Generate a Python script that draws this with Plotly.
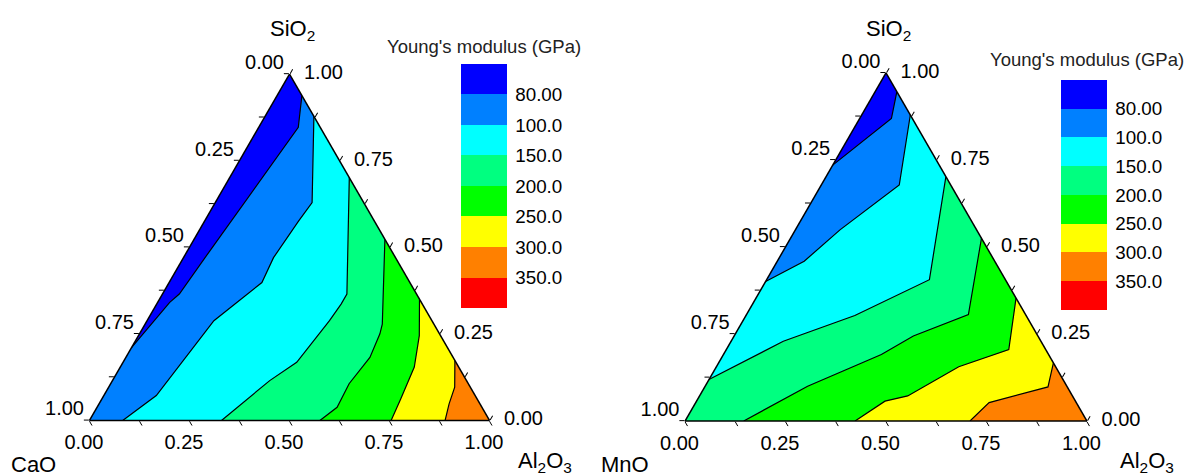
import plotly.graph_objects as go

# ---------------- data ----------------
# ternary components (fractions): a = SiO2, b = CaO or MnO, c = Al2O3
level_labels = ["80.00", "100.0", "150.0", "200.0", "250.0", "300.0", "350.0"]
band_colors = ["#0000FF", "#0080FF", "#00FFFF", "#00FF80", "#00FF00",
               "#FFFF00", "#FF8000", "#FF0000"]
tick_all = [0, 0.125, 0.25, 0.375, 0.5, 0.625, 0.75, 0.875, 1.0]
tick_major = [0, 0.25, 0.5, 0.75, 1.0]

# Left plot: CaO - SiO2 - Al2O3, contour boundaries (SiO2, Al2O3)
cao_80_sio2 = [0.938, 0.846, 0.489, 0.365, 0.341, 0.21]
cao_80_al2o3 = [0.062, 0.099, 0.056, 0.042, 0.030, 0.0]
cao_100_sio2 = [0.878, 0.629, 0.576, 0.470, 0.398, 0.288, 0.072, 0.0]
cao_100_al2o3 = [0.122, 0.242, 0.235, 0.225, 0.232, 0.167, 0.131, 0.083]
cao_150_sio2 = [0.701, 0.365, 0.336, 0.288, 0.168, 0.115, 0.0]
cao_150_al2o3 = [0.299, 0.461, 0.461, 0.456, 0.434, 0.393, 0.330]
cao_200_sio2 = [0.523, 0.278, 0.250, 0.182, 0.106, 0.038, 0.0]
cao_200_al2o3 = [0.477, 0.593, 0.601, 0.610, 0.596, 0.600, 0.576]
cao_250_sio2 = [0.350, 0.245, 0.154, 0.062, 0.0]
cao_250_al2o3 = [0.650, 0.702, 0.735, 0.747, 0.754]
cao_300_sio2 = [0.173, 0.096, 0.048, 0.0]
cao_300_al2o3 = [0.827, 0.865, 0.875, 0.889]

# Right plot: MnO - SiO2 - Al2O3, contour boundaries (SiO2, Al2O3)
mno_80_sio2 = [0.946, 0.869, 0.735]
mno_80_al2o3 = [0.054, 0.079, 0.0]
mno_100_sio2 = [0.879, 0.678, 0.549, 0.459, 0.401]
mno_100_al2o3 = [0.121, 0.194, 0.111, 0.067, 0.0]
mno_150_sio2 = [0.702, 0.406, 0.303, 0.229, 0.119]
mno_150_al2o3 = [0.298, 0.405, 0.271, 0.130, 0.0]
mno_200_sio2 = [0.525, 0.306, 0.244, 0.191, 0.100, 0.0]
mno_200_al2o3 = [0.475, 0.552, 0.446, 0.393, 0.255, 0.146]
mno_250_sio2 = [0.353, 0.205, 0.156, 0.072, 0.057, 0.0]
mno_250_al2o3 = [0.647, 0.703, 0.603, 0.518, 0.469, 0.423]
mno_300_sio2 = [0.167, 0.098, 0.053, 0.0]
mno_300_al2o3 = [0.833, 0.854, 0.730, 0.709]

cao_lines = [(cao_80_sio2, cao_80_al2o3), (cao_100_sio2, cao_100_al2o3),
             (cao_150_sio2, cao_150_al2o3), (cao_200_sio2, cao_200_al2o3),
             (cao_250_sio2, cao_250_al2o3), (cao_300_sio2, cao_300_al2o3)]
mno_lines = [(mno_80_sio2, mno_80_al2o3), (mno_100_sio2, mno_100_al2o3),
             (mno_150_sio2, mno_150_al2o3), (mno_200_sio2, mno_200_al2o3),
             (mno_250_sio2, mno_250_al2o3), (mno_300_sio2, mno_300_al2o3)]

FONT = "Liberation Sans, Arial, sans-serif"
W, H = 1192, 475
OFF = 8  # page body margin of the browser


def px(x):
    return (x - OFF) / W


def py(y):
    return 1 - (y - OFF) / H


fig = go.Figure()


def add_contours(lines, subplot):
    # filled bands (painter's order: each band covers the higher-valued side)
    for i, (sa, sc) in enumerate(lines):
        a = list(sa)
        c = list(sc)
        if a[-1] == 0:          # ends on bottom edge -> close via Al2O3 corner
            a += [0.0]
            c += [1.0]
        else:                   # ends on left edge -> via base corner, Al2O3 corner
            a += [0.0, 0.0]
            c += [0.0, 1.0]
        b = [1 - x - y for x, y in zip(a, c)]
        fig.add_trace(go.Scatterternary(
            a=a, b=b, c=c, mode="lines", fill="toself",
            fillcolor=band_colors[i + 1], line=dict(width=0),
            hoverinfo="skip", showlegend=False, subplot=subplot))
    # contour lines
    for sa, sc in lines:
        b = [1 - x - y for x, y in zip(sa, sc)]
        fig.add_trace(go.Scatterternary(
            a=sa, b=b, c=sc, mode="lines",
            line=dict(color="black", width=1.2),
            hoverinfo="skip", showlegend=False, subplot=subplot))


def add_tick_labels(subplot):
    tf = dict(size=20, color="black", family=FONT)
    nb = "\u00a0"
    # left edge (base oxide fraction)
    fig.add_trace(go.Scatterternary(
        a=tick_major, b=[1 - v for v in tick_major], c=[0] * len(tick_major),
        mode="text", text=[f"{1 - v:.2f}" + nb for v in tick_major],
        textposition="top left", textfont=tf, cliponaxis=False,
        hoverinfo="skip", showlegend=False, subplot=subplot))
    # bottom edge (Al2O3 fraction)
    fig.add_trace(go.Scatterternary(
        a=[0] * len(tick_major), b=[1 - v for v in tick_major], c=tick_major,
        mode="markers+text", marker=dict(size=20.8, opacity=0),
        text=[f"{v:.2f}" + nb + nb for v in tick_major],
        textposition="bottom center", textfont=tf, cliponaxis=False,
        hoverinfo="skip", showlegend=False, subplot=subplot))
    # right edge (SiO2 fraction)
    fig.add_trace(go.Scatterternary(
        a=tick_major, b=[0] * len(tick_major), c=[1 - v for v in tick_major],
        mode="markers+text", marker=dict(size=21.6, opacity=0),
        text=[f"{v:.2f}" for v in tick_major],
        textposition="middle right", textfont=tf, cliponaxis=False,
        hoverinfo="skip", showlegend=False, subplot=subplot))


def add_colorbar(subplot, x, y, length):
    n = len(band_colors)
    cols = band_colors[::-1]   # low values on top
    scale = []
    for i, col in enumerate(cols):
        scale.append([i / n, col])
        scale.append([(i + 1) / n, col])
    fig.add_trace(go.Scatterternary(
        a=[1], b=[0], c=[0], mode="markers",
        marker=dict(color=[0], cmin=0, cmax=n, colorscale=scale,
                    opacity=0, size=1, showscale=True,
                    colorbar=dict(x=x, xanchor="left", y=y, yanchor="top",
                                  len=length, lenmode="fraction",
                                  thickness=46, xpad=0, ypad=0,
                                  outlinewidth=0,
                                  tickmode="array",
                                  tickvals=[n - 1 - k for k in range(len(level_labels))],
                                  ticktext=level_labels,
                                  ticks="outside", ticklen=5,
                                  tickcolor="rgba(0,0,0,0)",
                                  tickfont=dict(size=18.8, color="black",
                                                family=FONT))),
        hoverinfo="skip", showlegend=False, subplot=subplot))


add_contours(cao_lines, "ternary")
add_contours(mno_lines, "ternary2")
add_tick_labels("ternary")
add_tick_labels("ternary2")
add_colorbar("ternary", px(461), py(64), 244 / H)
add_colorbar("ternary2", px(1061), py(80), 230 / H)


def axis():
    return dict(title=dict(text=""), min=0, linecolor="black", linewidth=1.5,
                showgrid=False, ticks="outside", ticklen=5, tickwidth=1.2,
                tickcolor="black", tickmode="array", tickvals=tick_all,
                showticklabels=False)


def title(text, x, y, size=22, anchor="center", color="black"):
    return dict(text=text, x=px(x), y=py(y), xref="paper", yref="paper",
                xanchor=anchor, yanchor="middle", showarrow=False,
                font=dict(size=size, color=color, family=FONT))


fig.update_layout(
    width=W, height=H,
    margin=dict(l=0, r=0, t=0, b=0),
    paper_bgcolor="white",
    font=dict(family=FONT, color="black"),
    showlegend=False,
    ternary=dict(domain=dict(x=[px(89.5), px(489.5)], y=[py(420.5), py(74)]),
                 sum=1, bgcolor=band_colors[0],
                 aaxis=axis(), baxis=axis(), caxis=axis()),
    ternary2=dict(domain=dict(x=[px(685), px(1087)], y=[py(421), py(72.9)]),
                  sum=1, bgcolor=band_colors[0],
                  aaxis=axis(), baxis=axis(), caxis=axis()),
    annotations=[
        title("SiO<sub>2</sub>", 292, 30),
        title("CaO", 33, 464),
        title("Al<sub>2</sub>O<sub>3</sub>", 545, 462),
        title("SiO<sub>2</sub>", 889, 30),
        title("MnO", 625, 464),
        title("Al<sub>2</sub>O<sub>3</sub>", 1147, 462),
        title("Young's modulus (GPa)", 484, 47, size=18.5, color="#222"),
        title("Young's modulus (GPa)", 1186, 60, size=18.5, anchor="right",
              color="#222"),
    ],
)

fig.write_html("out.html")
